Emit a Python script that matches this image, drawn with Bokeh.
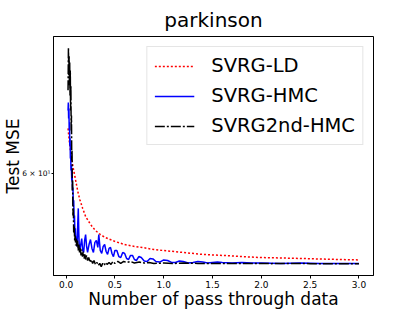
from bokeh.plotting import figure
from bokeh.models import FixedTicker, PrintfTickFormatter, Range1d
from bokeh.embed import file_html
from bokeh.resources import INLINE

# ---------------- data ----------------
x_ld = [0.020, 0.030, 0.040, 0.050, 0.060, 0.070, 0.080, 0.090, 0.100, 0.120,
        0.140, 0.170, 0.200, 0.250, 0.300, 0.350, 0.400, 0.500, 0.600, 0.700,
        0.800, 0.900, 1.000, 1.200, 1.400, 1.600, 1.800, 2.000, 2.200, 2.500,
        2.800, 3.000]
mse_ld = [62.54, 61.97, 61.45, 61.06, 60.72, 60.39, 60.11, 59.83, 59.56, 59.01,
          58.58, 58.10, 57.67, 57.25, 56.93, 56.72, 56.57, 56.36, 56.20, 56.10,
          56.03, 55.94, 55.89, 55.79, 55.69, 55.64, 55.58, 55.53, 55.51, 55.47,
          55.43, 55.41]

x_hmc = [0.020, 0.023, 0.026, 0.029, 0.032, 0.035, 0.038, 0.041, 0.044, 0.047,
         0.050, 0.054, 0.058, 0.062, 0.066, 0.070, 0.074, 0.078, 0.082, 0.086,
         0.090, 0.095, 0.100, 0.105, 0.110, 0.115, 0.120, 0.125, 0.130, 0.135,
         0.140, 0.150, 0.160, 0.170, 0.180, 0.190, 0.200, 0.210, 0.220, 0.235,
         0.250, 0.265, 0.280, 0.295, 0.310, 0.325, 0.335, 0.350, 0.365, 0.380,
         0.395, 0.410, 0.425, 0.440, 0.455, 0.470, 0.485, 0.500, 0.520, 0.540,
         0.560, 0.580, 0.600, 0.620, 0.640, 0.660, 0.680, 0.700, 0.720, 0.745,
         0.770, 0.800, 0.830, 0.860, 0.890, 0.920, 0.960, 1.000, 1.040, 1.080,
         1.120, 1.160, 1.200, 1.250, 1.300, 1.350, 1.400, 1.450, 1.500, 1.550,
         1.600, 1.700, 1.800, 1.900, 2.000, 2.200, 2.400, 2.600, 2.800, 3.000]
mse_hmc = [63.58, 64.05, 63.12, 63.70, 62.42, 62.89, 61.57, 61.97, 60.83, 61.17,
           60.17, 60.44, 59.61, 59.83, 59.07, 59.23, 58.26, 58.53, 57.46, 57.72,
           56.83, 57.04, 56.41, 56.62, 56.10, 56.41, 57.35, 58.10, 56.83, 56.10,
           55.89, 56.20, 56.51, 55.89, 55.79, 56.41, 56.72, 56.10, 55.79, 56.20,
           56.46, 56.00, 55.79, 56.31, 56.41, 56.05, 56.72, 55.89, 55.74, 56.10,
           56.20, 55.84, 55.69, 56.00, 56.05, 55.74, 55.58, 55.89, 55.89, 55.58,
           55.53, 55.79, 55.74, 55.48, 55.43, 55.64, 55.64, 55.43, 55.38, 55.58,
           55.53, 55.35, 55.33, 55.48, 55.46, 55.33, 55.30, 55.41, 55.38, 55.28,
           55.28, 55.35, 55.33, 55.25, 55.28, 55.33, 55.30, 55.25, 55.28, 55.30,
           55.28, 55.25, 55.28, 55.25, 55.25, 55.23, 55.25, 55.23, 55.23, 55.23]

x_2nd = [0.020, 0.024, 0.028, 0.031, 0.034, 0.037, 0.040, 0.043, 0.046, 0.049,
         0.052, 0.055, 0.058, 0.061, 0.064, 0.067, 0.070, 0.074, 0.078, 0.083,
         0.088, 0.093, 0.098, 0.103, 0.110, 0.117, 0.124, 0.131, 0.138, 0.145,
         0.153, 0.160, 0.168, 0.176, 0.184, 0.192, 0.200, 0.210, 0.220, 0.232,
         0.245, 0.258, 0.272, 0.286, 0.300, 0.315, 0.330, 0.345, 0.360, 0.375,
         0.390, 0.405, 0.420, 0.440, 0.460, 0.480, 0.500, 0.530, 0.560, 0.590,
         0.620, 0.660, 0.700, 0.750, 0.800, 0.850, 0.900, 1.000, 1.100, 1.200,
         1.350, 1.500, 1.700, 1.900, 2.100, 2.300, 2.500, 2.700, 3.000]
mse_2nd = [64.77, 67.38, 65.67, 66.89, 65.07, 66.46, 64.47, 65.97, 63.58, 65.07,
           62.42, 63.29, 60.72, 61.28, 59.07, 59.61, 57.72, 58.26, 56.83, 57.19,
           56.41, 56.67, 56.15, 56.51, 56.10, 56.41, 55.89, 56.20, 55.79, 56.05,
           55.64, 55.94, 55.58, 55.84, 55.48, 55.69, 55.43, 55.64, 55.38, 55.53,
           55.28, 55.43, 55.23, 55.38, 55.18, 55.28, 55.13, 55.23, 55.07, 55.23,
           55.13, 55.28, 55.18, 55.28, 55.18, 55.33, 55.23, 55.33, 55.23, 55.33,
           55.28, 55.33, 55.25, 55.30, 55.25, 55.28, 55.23, 55.25, 55.23, 55.25,
           55.23, 55.23, 55.23, 55.23, 55.22, 55.23, 55.22, 55.22, 55.22]

x_ticks = [0.0, 0.5, 1.0, 1.5, 2.0, 2.5, 3.0]
y_ticks = [60]
y_tick_labels = {60: "6 \u00d7 10\u00b9"}
title_text = "parkinson"
x_label_text = "Number of pass through data"
y_label_text = "Test MSE"

FONT = "DejaVu Sans"

p = figure(width=415, height=311, output_backend="svg", toolbar_location=None,
           y_axis_type="log",
           x_range=Range1d(-0.129, 3.149), y_range=Range1d(54.62, 68.06),
           min_border_left=51, min_border_right=42, min_border_top=0,
           min_border_bottom=36, background_fill_color="white",
           border_fill_color="white")

p.title.text = title_text
p.title.align = "center"
p.title.text_font = FONT
p.title.text_font_size = "20px"
p.title.text_font_style = "normal"
p.title.text_color = "black"
p.title.standoff = 10

p.xgrid.visible = False
p.ygrid.visible = False
p.outline_line_color = "black"
p.outline_line_width = 1
p.outline_line_alpha = 1

p.line(x_ld, mse_ld, line_color="#ff0000", line_width=1.5, line_dash="2 2",
       legend_label="SVRG-LD")
p.line(x_hmc, mse_hmc, line_color="#0000ff", line_width=1.5,
       legend_label="SVRG-HMC")
p.line(x_2nd, mse_2nd, line_color="black", line_width=1.5, line_dash="10 2 2 2",
       legend_label="SVRG2nd-HMC")

xa = p.xaxis[0]
xa.ticker = FixedTicker(ticks=x_ticks)
xa.formatter = PrintfTickFormatter(format="%.1f")
xa.major_label_text_font = FONT
xa.major_label_text_font_size = "9px"
xa.major_label_text_color = "black"
xa.major_label_standoff = 2
xa.major_tick_out = 3
xa.major_tick_in = 0
xa.major_tick_line_color = "black"
xa.minor_tick_out = 0
xa.minor_tick_in = 0
xa.axis_line_color = "black"
xa.axis_label = x_label_text
xa.axis_label_text_font = FONT
xa.axis_label_text_font_size = "17px"
xa.axis_label_text_font_style = "normal"
xa.axis_label_text_color = "black"
xa.axis_label_standoff = -2

ya = p.yaxis[0]
ya.ticker = FixedTicker(ticks=y_ticks, minor_ticks=[])
ya.major_label_overrides = y_tick_labels
ya.major_label_text_font = FONT
ya.major_label_text_font_size = "7.5px"
ya.major_label_text_color = "black"
ya.major_label_standoff = 1
ya.major_tick_out = 2
ya.major_tick_in = 0
ya.major_tick_line_color = "black"
ya.minor_tick_out = 0
ya.minor_tick_in = 0
ya.axis_line_color = "black"
ya.axis_label = y_label_text
ya.axis_label_text_font = FONT
ya.axis_label_text_font_size = "17px"
ya.axis_label_text_font_style = "normal"
ya.axis_label_text_color = "black"
ya.axis_label_standoff = -4

lg = p.legend[0]
lg.location = "top_right"
lg.margin = 10
lg.padding = 7
lg.spacing = 7
lg.glyph_width = 40
lg.glyph_height = 20
lg.label_standoff = 17
lg.label_text_font = FONT
lg.label_text_font_size = "19.5px"
lg.label_text_color = "black"
lg.border_line_color = "#cccccc"
lg.border_line_width = 1
lg.background_fill_alpha = 0.8

open("out.html", "w").write(file_html(p, INLINE))
